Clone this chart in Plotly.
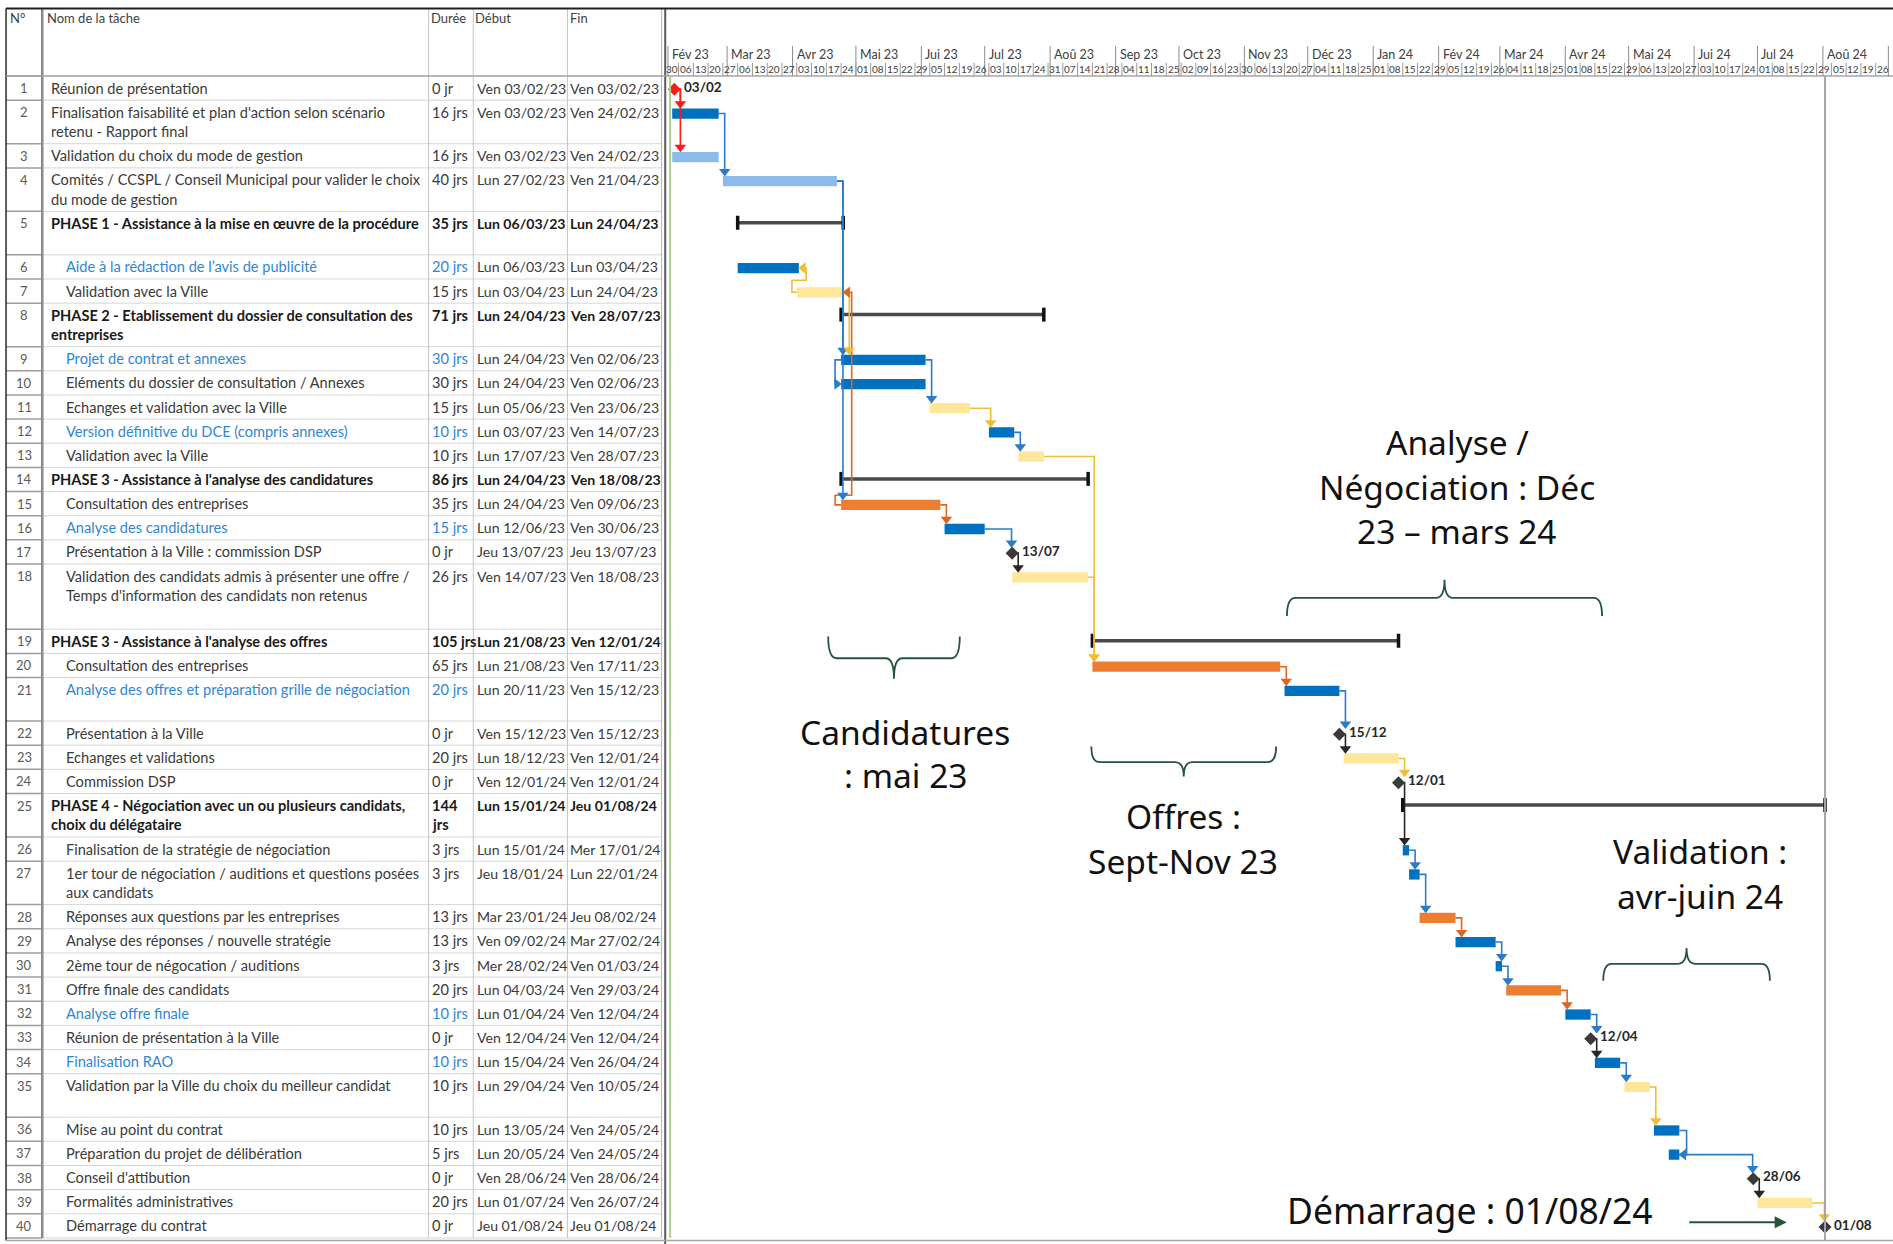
import plotly.graph_objects as go
from datetime import datetime, timedelta

# ------------------------------------------------------------------ data
numeros = list(range(1, 41))
noms = [
    "Réunion de présentation",
    "Finalisation faisabilité et plan d'action selon scénario\nretenu - Rapport final",
    "Validation du choix du mode de gestion",
    "Comités / CCSPL / Conseil Municipal pour valider le choix\ndu mode de gestion",
    "PHASE 1 - Assistance à la mise en œuvre de la procédure",
    "Aide à la rédaction de l’avis de publicité",
    "Validation avec la Ville",
    "PHASE 2 - Etablissement du dossier de consultation des\nentreprises",
    "Projet de contrat et annexes",
    "Eléments du dossier de consultation / Annexes",
    "Echanges et validation avec la Ville",
    "Version définitive du DCE (compris annexes)",
    "Validation avec la Ville",
    "PHASE 3 - Assistance à l'analyse des candidatures",
    "Consultation des entreprises",
    "Analyse des candidatures",
    "Présentation à la Ville : commission DSP",
    "Validation des candidats admis à présenter une offre /\nTemps d'information des candidats non retenus",
    "PHASE 3 - Assistance à l'analyse des offres",
    "Consultation des entreprises",
    "Analyse des offres et préparation grille de négociation",
    "Présentation à la Ville",
    "Echanges et validations",
    "Commission DSP",
    "PHASE 4 - Négociation avec un ou plusieurs candidats,\nchoix du délégataire",
    "Finalisation de la stratégie de négociation",
    "1er tour de négociation / auditions et questions posées\naux candidats",
    "Réponses aux questions par les entreprises",
    "Analyse des réponses / nouvelle stratégie",
    "2ème tour de négocation / auditions",
    "Offre finale des candidats",
    "Analyse offre finale",
    "Réunion de présentation à la Ville",
    "Finalisation RAO",
    "Validation par la Ville du choix du meilleur candidat",
    "Mise au point du contrat",
    "Préparation du projet de délibération",
    "Conseil d'attibution",
    "Formalités administratives",
    "Démarrage du contrat",
]
durees = ["0 jr", "16 jrs", "16 jrs", "40 jrs", "35 jrs", "20 jrs", "15 jrs", "71 jrs",
          "30 jrs", "30 jrs", "15 jrs", "10 jrs", "10 jrs", "86 jrs", "35 jrs", "15 jrs",
          "0 jr", "26 jrs", "105 jrs", "65 jrs", "20 jrs", "0 jr", "20 jrs", "0 jr",
          "144\njrs", "3 jrs", "3 jrs", "13 jrs", "13 jrs", "3 jrs", "20 jrs", "10 jrs",
          "0 jr", "10 jrs", "10 jrs", "10 jrs", "5 jrs", "0 jr", "20 jrs", "0 jr"]
debuts = ["Ven 03/02/23", "Ven 03/02/23", "Ven 03/02/23", "Lun 27/02/23", "Lun 06/03/23",
          "Lun 06/03/23", "Lun 03/04/23", "Lun 24/04/23", "Lun 24/04/23", "Lun 24/04/23",
          "Lun 05/06/23", "Lun 03/07/23", "Lun 17/07/23", "Lun 24/04/23", "Lun 24/04/23",
          "Lun 12/06/23", "Jeu 13/07/23", "Ven 14/07/23", "Lun 21/08/23", "Lun 21/08/23",
          "Lun 20/11/23", "Ven 15/12/23", "Lun 18/12/23", "Ven 12/01/24", "Lun 15/01/24",
          "Lun 15/01/24", "Jeu 18/01/24", "Mar 23/01/24", "Ven 09/02/24", "Mer 28/02/24",
          "Lun 04/03/24", "Lun 01/04/24", "Ven 12/04/24", "Lun 15/04/24", "Lun 29/04/24",
          "Lun 13/05/24", "Lun 20/05/24", "Ven 28/06/24", "Lun 01/07/24", "Jeu 01/08/24"]
fins = ["Ven 03/02/23", "Ven 24/02/23", "Ven 24/02/23", "Ven 21/04/23", "Lun 24/04/23",
        "Lun 03/04/23", "Lun 24/04/23", "Ven 28/07/23", "Ven 02/06/23", "Ven 02/06/23",
        "Ven 23/06/23", "Ven 14/07/23", "Ven 28/07/23", "Ven 18/08/23", "Ven 09/06/23",
        "Ven 30/06/23", "Jeu 13/07/23", "Ven 18/08/23", "Ven 12/01/24", "Ven 17/11/23",
        "Ven 15/12/23", "Ven 15/12/23", "Ven 12/01/24", "Ven 12/01/24", "Jeu 01/08/24",
        "Mer 17/01/24", "Lun 22/01/24", "Jeu 08/02/24", "Mar 27/02/24", "Ven 01/03/24",
        "Ven 29/03/24", "Ven 12/04/24", "Ven 12/04/24", "Ven 26/04/24", "Ven 10/05/24",
        "Ven 24/05/24", "Ven 24/05/24", "Ven 28/06/24", "Ven 26/07/24", "Jeu 01/08/24"]
# kind of mark: J = milestone, R = summary, else bar colour
genres = ["J", "bleu", "bleu_clair", "bleu_clair", "R", "bleu", "jaune", "R", "bleu", "bleu",
          "jaune", "bleu", "jaune", "R", "orange", "bleu", "J", "jaune", "R", "orange",
          "bleu", "J", "jaune", "J", "R", "bleu", "bleu", "orange", "bleu", "bleu",
          "orange", "bleu", "J", "bleu", "jaune", "bleu", "bleu", "J", "jaune", "J"]
lignes_bleues = [6, 9, 12, 16, 21, 32, 34]
lignes_phase = [5, 8, 14, 19, 25]
lignes_niveau1 = [1, 2, 3, 4, 5, 8, 14, 19, 25]
nb_lignes = [1, 2, 1, 2, 2, 1, 1, 2, 1, 1, 1, 1, 1, 1, 1, 1, 1, 3, 1, 1,
             2, 1, 1, 1, 2, 1, 2, 1, 1, 1, 1, 1, 1, 1, 2, 1, 1, 1, 1, 1]
liens_fd = [(1, 2), (1, 3), (2, 4), (4, 9), (4, 15), (7, 9), (9, 11), (11, 12), (12, 13),
            (13, 20), (15, 16), (16, 17), (17, 18), (18, 20), (20, 21), (21, 22), (22, 23),
            (23, 24), (24, 26), (26, 27), (27, 28), (28, 29), (29, 30), (30, 31), (31, 32),
            (32, 33), (33, 34), (34, 35), (35, 36), (37, 38), (38, 39), (39, 40)]
mois_labels = ["Fév 23", "Mar 23", "Avr 23", "Mai 23", "Jui 23", "Jul 23", "Aoû 23", "Sep 23",
               "Oct 23", "Nov 23", "Déc 23", "Jan 24", "Fév 24", "Mar 24", "Avr 24", "Mai 24",
               "Jui 24", "Jul 24", "Aoû 24"]
entetes = ["N°", "Nom de la tâche", "Durée", "Début", "Fin"]

# ------------------------------------------------------------------ layout constants
W, H = 1893, 1244
SX, SY = 1568.0, 1030.0          # internal layout units
TABLE_R = 550.5
PX_DAY = 1.7489                   # layout units per day on the timeline
T0 = datetime(2023, 2, 1)
X0_UNITS = 553.3
x2_left = T0 + timedelta(days=(TABLE_R - X0_UNITS) / PX_DAY)
x2_right = T0 + timedelta(days=(SX - X0_UNITS) / PX_DAY)

FONT = "Lato"
FS = 14.6
FS_DATE = 14.1
C_TXT = "#3a3a3a"
C_BLUE_TXT = "#2f86d3"
GREEN = "#24553a"

def pdate(s):
    j, m, a = s.split()[1].split("/")
    return datetime(2000 + int(a), int(m), int(j))

def dx(u):
    return timedelta(days=u / PX_DAY)

N = len(numeros)
hauteurs = [{1: 20, 2: 36, 3: 54}[n] for n in nb_lignes]
HEADER_TOP, HEADER_BOT = 7, 63
tops = []
y = HEADER_BOT
for h in hauteurs:
    tops.append(y)
    y += h
TABLE_BOT = y
ycen = [t + 11 for t in tops]

starts = [pdate(s) for s in debuts]
ends = [pdate(s) + timedelta(days=1) for s in fins]
ms_x = [pdate(s) + timedelta(days=1) for s in fins]

fig = go.Figure()
shapes = []
ann = []

def hline(x0, x1, yy, color, width, xref="x"):
    shapes.append(dict(type="line", xref=xref, yref="y", x0=x0, x1=x1, y0=yy, y1=yy,
                       line=dict(color=color, width=width)))

def vline(xx, y0, y1, color, width, xref="x"):
    shapes.append(dict(type="line", xref=xref, yref="y", x0=xx, x1=xx, y0=y0, y1=y1,
                       line=dict(color=color, width=width)))

def text(x, y, s, size=FS, color=C_TXT, xanchor="left", xref="x", family=FONT):
    ann.append(dict(x=x, y=y, xref=xref, yref="y", text=s, showarrow=False,
                    xanchor=xanchor, yanchor="middle", borderpad=0,
                    font=dict(family=family, size=size, color=color)))

# ------------------------------------------------------------------ table grid
COLS = [5, 35, 355, 392, 470, 548]
for i in range(N + 1):
    yy = tops[i] if i < N else TABLE_BOT
    hline(COLS[1], COLS[5], yy, "#d6d6d6", 1)
    hline(COLS[0], COLS[1], yy, "#9c9c9c", 1.5)
for c in COLS[2:5]:
    vline(c, HEADER_TOP, TABLE_BOT, "#c4c4c4", 1)
vline(COLS[1], HEADER_TOP, TABLE_BOT, "#8a8a8a", 2.5)
vline(COLS[0], HEADER_TOP, TABLE_BOT + 2, "#2b2b2b", 1.5)
vline(COLS[5], HEADER_TOP, TABLE_BOT, "#b5b5b5", 1)
vline(551, HEADER_TOP, SY, "#5a5a5a", 2)
hline(COLS[0], SX, HEADER_TOP, "#1e1e1e", 2)
hline(COLS[0], SX, HEADER_BOT, "#a6a6a6", 1.5)
hline(COLS[0], SX, TABLE_BOT + 2, "#a6a6a6", 1.5)

# headers
hx = [7.5, 38.5, 356, 393, 471.5]
for x, s in zip(hx, entetes):
    text(x, 15, s, size=13, color="#404040")

# rows
for i in range(N):
    n = numeros[i]
    bold = n in lignes_phase
    blue = n in lignes_bleues
    col_name = C_BLUE_TXT if blue else ("#1a1a1a" if bold else C_TXT)
    col_other = "#1a1a1a" if bold else C_TXT
    def fmt(s):
        return f"<b>{s}</b>" if bold else s
    y1 = tops[i] + 10
    text(20, y1, str(n), size=13, color="#5a5a5a", xanchor="center")
    xn = 41 if n in lignes_niveau1 else 54
    for k, part in enumerate(noms[i].split("\n")):
        text(xn, y1 + 16 * k, fmt(part), color=col_name)
    for k, part in enumerate(durees[i].split("\n")):
        text(357, y1 + 16 * k, fmt(part), color=(C_BLUE_TXT if blue else col_other))
    text(394, y1, fmt(debuts[i]), size=FS_DATE, color=col_other)
    text(471.5, y1, fmt(fins[i]), size=FS_DATE, color=col_other)

# ------------------------------------------------------------------ timeline header
m = datetime(2023, 2, 1)
for lab in mois_labels:
    vline(m, 38, HEADER_BOT, "#8c8c8c", 1, xref="x2")
    ann.append(dict(x=m + dx(2.5), y=45, xref="x2", yref="y", text=lab, showarrow=False,
                    xanchor="left", yanchor="middle", borderpad=0,
                    font=dict(family=FONT, size=12.5, color="#404040")))
    m = datetime(m.year + (m.month // 12), m.month % 12 + 1, 1)
vline(m, 38, HEADER_BOT, "#8c8c8c", 1, xref="x2")
wk = datetime(2023, 1, 30)
while wk < x2_right - timedelta(days=6):
    if wk > x2_left:
        vline(wk, 52, HEADER_BOT, "#9a9a9a", 1, xref="x2")
    ann.append(dict(x=max(wk, x2_left + dx(0.5)) + dx(0.2), y=57.5, xref="x2", yref="y",
                    text=wk.strftime("%d"),
                    showarrow=False, xanchor="left", yanchor="middle", borderpad=0,
                    font=dict(family=FONT, size=10, color="#404040")))
    wk += timedelta(days=7)

# project start / finish lines
vline(datetime(2023, 2, 2), HEADER_BOT, TABLE_BOT, "#a9d18e", 2, xref="x2")
vline(ms_x[39], HEADER_BOT, TABLE_BOT + 2, "#a6a6a6", 2, xref="x2")

# ------------------------------------------------------------------ bars
bar_colors = {"bleu": "#0070c0", "bleu_clair": "#8dbbe9", "jaune": "#ffe699", "orange": "#ed7d31"}
for key, col in bar_colors.items():
    idx = [i for i in range(N) if genres[i] == key]
    fig.add_trace(go.Bar(
        orientation="h", base=[starts[i] for i in idx],
        x=[(ends[i] - starts[i]).total_seconds() * 1000 for i in idx],
        y=[ycen[i] for i in idx], width=8.5,
        marker=dict(color=col, line=dict(width=0)),
        xaxis="x2", yaxis="y", showlegend=False, hoverinfo="skip"))

# summary bars
sx, sy, cx, cy = [], [], [], []
for i in range(N):
    if genres[i] == "R":
        yy = ycen[i] - 1.5
        sx += [starts[i], ends[i], None]
        sy += [yy, yy, None]
        cx += [starts[i], ends[i]]
        cy += [yy, yy]
fig.add_trace(go.Scatter(x=sx, y=sy, mode="lines", line=dict(color="#4a4a4a", width=3.5),
                         xaxis="x2", yaxis="y", showlegend=False, hoverinfo="skip"))
fig.add_trace(go.Scatter(x=cx, y=cy, mode="markers",
                         marker=dict(symbol="line-ns", size=10, line=dict(width=3.5, color="#111")),
                         xaxis="x2", yaxis="y", showlegend=False, hoverinfo="skip"))

# ------------------------------------------------------------------ links
link_colors = {"rouge": "#ff1a1a", "bleu": "#2b7bca", "jaune": "#f0bd33",
               "orange": "#e0661c", "noir": "#262626"}

def link_color(p):
    g = genres[p - 1]
    if p == 1:
        return "rouge"
    if g == "J":
        return "noir"
    if g in ("bleu", "bleu_clair"):
        return "bleu"
    return g

paths = {}
heads = {}

def add_path(col, pts, head, sym):
    xs, ys = paths.setdefault(col, ([], []))
    for (px, py) in pts:
        xs.append(px)
        ys.append(py)
    xs.append(None)
    ys.append(None)
    hx_, hy_, hs_ = heads.setdefault(col, ([], [], []))
    hx_.append(head[0])
    hy_.append(head[1])
    hs_.append(sym)

for p, s in liens_fd:
    ip, is_ = p - 1, s - 1
    col = link_color(p)
    if genres[ip] == "J":
        x_from = ms_x[ip] + dx(4)
        x_min = ms_x[ip] + dx(5)
    else:
        x_from = ends[ip]
        x_min = ends[ip] + dx(5)
    if genres[is_] == "J":
        x_tgt = ms_x[is_] - dx(0.5)
        tip = ycen[is_] - 4.8
    else:
        x_tgt = starts[is_] + dx(1.5)
        tip = ycen[is_] - 4.3
    xv = max(x_min, x_tgt)
    hy = tip - 3.7
    add_path(col, [(x_from, ycen[ip]), (xv, ycen[ip]), (xv, hy)], (xv, hy), "triangle-down")

# start-to-start 9 -> 10
i9, i10 = 8, 9
xl = starts[i9] - dx(5)
add_path("bleu", [(starts[i9], ycen[i9]), (xl, ycen[i9]), (xl, ycen[i10]),
                  (starts[i10] - dx(3.5), ycen[i10])], (starts[i10] - dx(3.5), ycen[i10]),
         "triangle-right")
# finish-to-finish 36 -> 37
i36, i37 = 35, 36
xr = ends[i36] + dx(6)
add_path("bleu", [(ends[i36], ycen[i36]), (xr, ycen[i36]), (xr, ycen[i37]),
                  (ends[i37] + dx(3.5), ycen[i37])], (ends[i37] + dx(3.5), ycen[i37]),
         "triangle-left")
# 7 -> 6 (yellow loop)
i6, i7 = 5, 6
ymid = tops[i7] + 1
xa = starts[i7] - dx(4)
xb = ends[i6] + dx(6)
add_path("jaune", [(starts[i7], ycen[i7]), (xa, ycen[i7]), (xa, ymid), (xb, ymid),
                   (xb, ycen[i6]), (ends[i6] + dx(3.5), ycen[i6])],
         (ends[i6] + dx(3.5), ycen[i6]), "triangle-left")
# 15 -> 7 (orange)
i15 = 14
xa = starts[i15] - dx(5)
xo = ends[i7] + dx(7)
yb = tops[i15] + 3
add_path("orange", [(starts[i15], ycen[i15]), (xa, ycen[i15]), (xa, yb), (xo, yb),
                    (xo, ycen[i7]), (ends[i7] + dx(3.5), ycen[i7])],
         (ends[i7] + dx(3.5), ycen[i7]), "triangle-left")

for col, (xs, ys) in paths.items():
    fig.add_trace(go.Scatter(x=xs, y=ys, mode="lines",
                             line=dict(color=link_colors[col], width=1.6),
                             xaxis="x2", yaxis="y", showlegend=False, hoverinfo="skip"))
for col, (xs, ys, ss) in heads.items():
    fig.add_trace(go.Scatter(x=xs, y=ys, mode="markers",
                             marker=dict(symbol=ss, size=10, color=link_colors[col],
                                         line=dict(width=0)),
                             xaxis="x2", yaxis="y", showlegend=False, hoverinfo="skip"))

# ------------------------------------------------------------------ milestones
mi = [i for i in range(N) if genres[i] == "J"]
fig.add_trace(go.Scatter(
    x=[ms_x[i] for i in mi], y=[ycen[i] for i in mi], mode="markers",
    marker=dict(symbol="diamond", size=10,
                color=["#ff1a1a" if i == 0 else "#3a3a3a" for i in mi], line=dict(width=0)),
    xaxis="x2", yaxis="y", showlegend=False, hoverinfo="skip"))
for i in mi:
    ann.append(dict(x=ms_x[i] + dx(7), y=ycen[i] - 2, xref="x2", yref="y",
                    text="<b>" + pdate(fins[i]).strftime("%d/%m") + "</b>", showarrow=False,
                    xanchor="left", yanchor="middle", borderpad=0,
                    font=dict(family=FONT, size=13.5, color="#262626")))

# ------------------------------------------------------------------ call-outs
def accolade(x1, x2, y_bout, y_barre, y_pointe, r=7):
    xm = (x1 + x2) / 2
    return (f"M {x1},{y_bout} Q {x1},{y_barre} {x1 + r},{y_barre} "
            f"L {xm - r},{y_barre} Q {xm},{y_barre} {xm},{y_pointe} "
            f"Q {xm},{y_barre} {xm + r},{y_barre} L {x2 - r},{y_barre} "
            f"Q {x2},{y_barre} {x2},{y_bout}")

for args in [(686, 795, 527, 545, 562), (904, 1057, 618, 631, 643),
             (1066, 1327, 510, 495, 480), (1328, 1466, 812, 798, 785)]:
    shapes.append(dict(type="path", xref="x", yref="y", path=accolade(*args),
                       line=dict(color=GREEN, width=1.8)))

BIG = "Noto Sans"
for (x, y, s) in [(1207, 366, "Analyse /"), (1207, 403, "Négociation : Déc"),
                  (1207, 440, "23 – mars 24"),
                  (750, 606, "Candidatures"), (750, 642, ": mai 23"),
                  (980, 676, "Offres :"), (980, 713, "Sept-Nov 23"),
                  (1408, 705, "Validation :"), (1408, 742, "avr-juin 24")]:
    text(x, y, s, size=33.5, color="#111111", xanchor="center", family=BIG)
text(1218, 1002, "Démarrage : 01/08/24", size=35.5, color="#111111", xanchor="center",
     family=BIG)

ann.append(dict(x=1480, y=1012, ax=1398, ay=1012, xref="x", yref="y", axref="x", ayref="y",
                text="", showarrow=True, arrowhead=2, arrowsize=1.1, arrowwidth=2.2,
                arrowcolor=GREEN))

# ------------------------------------------------------------------ layout
fig.update_layout(
    width=W, height=H, margin=dict(l=0, r=0, t=0, b=0),
    paper_bgcolor="white", plot_bgcolor="white", barmode="overlay",
    hovermode=False, showlegend=False,
    xaxis=dict(range=[0, SX], domain=[0, 1], visible=False, fixedrange=True),
    xaxis2=dict(type="date", range=[x2_left, x2_right], domain=[TABLE_R / SX, 1],
                anchor="y", visible=False, fixedrange=True),
    yaxis=dict(range=[SY, 0], domain=[0, 1], visible=False, fixedrange=True),
    shapes=shapes, annotations=ann,
)

fig.write_html("out.html", config={"displayModeBar": False},
               post_script="document.body.style.margin='0';document.body.style.overflow='hidden';")
